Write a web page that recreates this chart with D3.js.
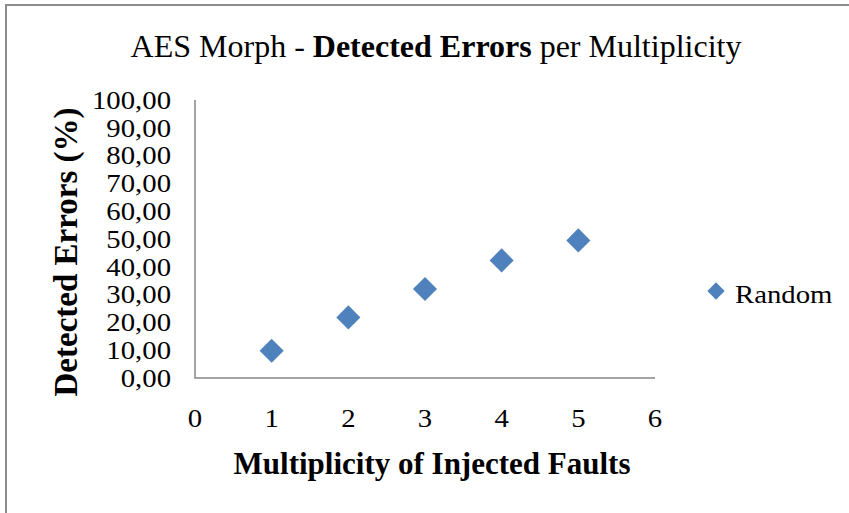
<!DOCTYPE html>
<html>
<head>
<meta charset="utf-8">
<script src="https://cdn.jsdelivr.net/npm/d3@7"></script>
<style>
  body { margin: 0; background: #fff; }
  text { font-family: "Liberation Serif", "Times New Roman", serif; fill: #000; }
</style>
</head>
<body>
<div id="chart"></div>
<script>
// Data
const multiplicity = [1, 2, 3, 4, 5];
const detected = [9.8, 21.8, 32.0, 42.3, 49.5];
const xTicks = [0, 1, 2, 3, 4, 5, 6];
const yTicks = [0, 10, 20, 30, 40, 50, 60, 70, 80, 90, 100];
const seriesName = "Random";

const W = 849, H = 513;
const plot = {left: 195, right: 655, top: 100, bottom: 378};
const stretch = 1.15;  // the original's text is a bit wider than Liberation Serif

const svg = d3.select("#chart")
  .append("svg")
    .attr("width", W)
    .attr("height", H);

svg.append("rect")
  .attr("width", W)
  .attr("height", H)
  .attr("fill", "#fff");

// Chart area border (cut off at right and bottom in the original)
svg.append("rect")
  .attr("x", 6)
  .attr("y", 5)
  .attr("width", W + 20)
  .attr("height", H + 20)
  .attr("fill", "none")
  .attr("stroke", "#8c8c8c")
  .attr("stroke-width", 2);

const x = d3.scaleLinear().domain([0, 6]).range([plot.left, plot.right]);
const y = d3.scaleLinear().domain([0, 100]).range([plot.bottom, plot.top]);

// Axis lines
svg.append("path")
  .attr("d", `M${x(0)},${y(100)}V${y(0)}H${x(6)}`)
  .attr("fill", "none")
  .attr("stroke", "#868686")
  .attr("stroke-width", 1.5);

// Y tick labels
svg.selectAll(".ytick")
  .data(yTicks)
  .enter()
  .append("text")
  .attr("class", "ytick")
  .attr("transform", d => `translate(171,${y(d)}) scale(${stretch},1)`)
  .attr("dy", "0.35em")
  .attr("text-anchor", "end")
  .style("font-size", "25px")
  .text(d => d3.format(".2f")(d).replace(".", ","));

// X tick labels
svg.selectAll(".xtick")
  .data(xTicks)
  .enter()
  .append("text")
  .attr("class", "xtick")
  .attr("transform", d => `translate(${x(d)},418) scale(${stretch},1)`)
  .attr("dy", "0.35em")
  .attr("text-anchor", "middle")
  .style("font-size", "25px")
  .text(d => d);

// Points
const diamond = d3.symbol().type(d3.symbolSquare).size(290);
svg.selectAll(".pt")
  .data(multiplicity.map((m, i) => ({m, v: detected[i]})))
  .enter()
  .append("path")
  .attr("class", "pt")
  .attr("d", diamond)
  .attr("transform", d => `translate(${x(d.m)},${y(d.v)}) rotate(45)`)
  .attr("fill", "#4f81bd");

// Title
const title = svg.append("text")
  .attr("x", 436)
  .attr("y", 57)
  .attr("text-anchor", "middle")
  .style("font-size", "32px");
title.append("tspan").text("AES Morph - ");
title.append("tspan").style("font-weight", "bold").text("Detected Errors");
title.append("tspan").text(" per Multiplicity");

// Axis titles
svg.append("text")
  .attr("x", 432)
  .attr("y", 474)
  .attr("text-anchor", "middle")
  .style("font-size", "31px")
  .style("font-weight", "bold")
  .text("Multiplicity of Injected Faults");

svg.append("text")
  .attr("transform", "translate(77,252) rotate(-90)")
  .attr("text-anchor", "middle")
  .style("font-size", "33px")
  .style("font-weight", "bold")
  .text("Detected Errors (%)");

// Legend
svg.append("path")
  .attr("d", d3.symbol().type(d3.symbolSquare).size(150))
  .attr("transform", "translate(716,291) rotate(45)")
  .attr("fill", "#4f81bd");

svg.append("text")
  .attr("transform", `translate(735,303) scale(${stretch},1)`)
  .style("font-size", "25px")
  .text(seriesName);
</script>
</body>
</html>
